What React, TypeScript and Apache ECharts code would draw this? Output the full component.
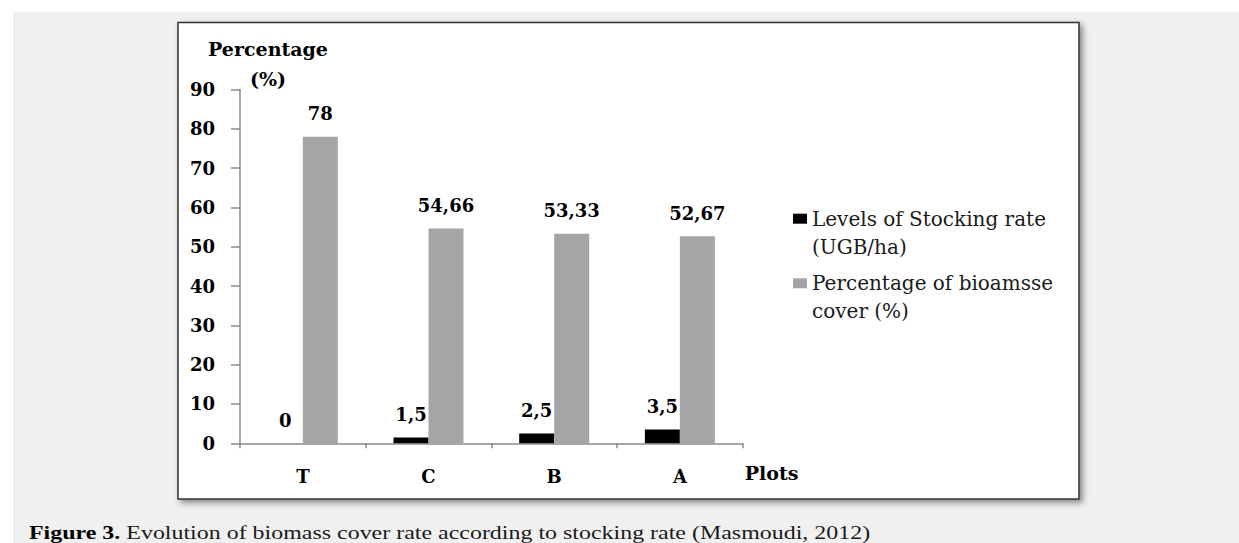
import React, { useEffect, useRef } from "react";
import * as echarts from "echarts";

const plots = ["T", "C", "B", "A"];
const stockingRate = [0, 1.5, 2.5, 3.5];
const biomassCover = [78, 54.66, 53.33, 52.67];
const seriesNames = ["Levels of Stocking rate (UGB/ha)", "Percentage of bioamsse cover (%)"];
const legendLines: Record<string, string> = {
  "Levels of Stocking rate (UGB/ha)": "\nLevels of Stocking rate\n(UGB/ha)",
  "Percentage of bioamsse cover (%)": "\nPercentage of bioamsse\ncover (%)",
};
const yAxisTitle = "Percentage\n(%)";
const xAxisTitle = "\nPlots";
const captionBold = "Figure 3.";
const captionText = " Evolution of biomass cover rate according to stocking rate (Masmoudi, 2012)";

const CHART_FONT = "'DejaVu Serif', serif";
const CAPTION_FONT = "'Liberation Serif', 'Times New Roman', serif";

const fmt = (p: any) => String(p.value).replace(".", ",");

export default function App() {
  const ref = useRef<HTMLDivElement>(null);
  useEffect(() => {
    if (!ref.current) return;
    const chart = echarts.init(ref.current, undefined, { renderer: "svg" });
    const boldText = { fontFamily: CHART_FONT, fontWeight: "bold" as const, fontSize: 18, color: "#000" };
    chart.setOption({
      animation: false,
      backgroundColor: "#ffffff",
      graphic: [
        {
          type: "rect",
          z: -10,
          silent: true,
          shape: { x: 13, y: 12, width: 1226, height: 531 },
          style: { fill: "#f0f0f0" },
        },
        {
          type: "rect",
          z: -9,
          silent: true,
          shape: { x: 178, y: 22.5, width: 901, height: 476.5 },
          style: {
            fill: "#ffffff",
            stroke: "#333333",
            lineWidth: 1.5,
            shadowBlur: 6,
            shadowOffsetX: 3,
            shadowOffsetY: 3,
            shadowColor: "rgba(0,0,0,0.45)",
          },
        },
        {
          type: "text",
          x: 29,
          y: 533,
          scaleX: 1.26,
          silent: true,
          style: {
            text: `{b|${captionBold}}{r|${captionText}}`,
            verticalAlign: "middle",
            align: "left",
            rich: {
              b: { fontFamily: CAPTION_FONT, fontWeight: "bold", fontSize: 19, fill: "#000" },
              r: { fontFamily: CAPTION_FONT, fontWeight: "normal", fontSize: 19, fill: "#1a1a1a" },
            },
          },
        },
      ],
      grid: { left: 240, top: 89.5, width: 502.7, height: 353.8 },
      legend: {
        orient: "vertical",
        left: 788,
        top: 171.7,
        padding: 5,
        itemWidth: 14,
        itemHeight: 10,
        itemGap: -19.4,
        icon: "rect",
        selectedMode: false,
        data: seriesNames,
        formatter: (n: string) => legendLines[n] ?? n,
        textStyle: {
          fontFamily: CHART_FONT,
          fontSize: 20,
          color: "#1a1a1a",
          lineHeight: 28,
        },
      },
      xAxis: {
        type: "category",
        data: plots,
        name: xAxisTitle,
        nameLocation: "end",
        nameGap: 2,
        nameMoveOverlap: false,
        nameTextStyle: { ...boldText, fontSize: 19, align: "left", verticalAlign: "middle", lineHeight: 60 },
        axisLine: { show: true, lineStyle: { color: "#8a8a8a", width: 1.5 } },
        axisTick: { show: true, length: 5, lineStyle: { color: "#8a8a8a", width: 1.5 } },
        axisLabel: { ...boldText, margin: 24 },
        splitLine: { show: false },
      },
      yAxis: {
        type: "value",
        min: 0,
        max: 90,
        interval: 10,
        name: yAxisTitle,
        nameLocation: "end",
        nameGap: -4,
        nameMoveOverlap: false,
        nameTextStyle: {
          ...boldText,
          fontSize: 19,
          align: "center",
          verticalAlign: "bottom",
          lineHeight: 30,
          padding: [0, 0, 0, 56],
        },
        axisLine: { show: true, lineStyle: { color: "#8a8a8a", width: 1.5 } },
        axisTick: { show: true, length: 9, lineStyle: { color: "#8a8a8a", width: 1.5 } },
        axisLabel: { ...boldText, margin: 25 },
        splitLine: { show: false },
      },
      series: [
        {
          name: seriesNames[0],
          type: "bar",
          data: stockingRate,
          barWidth: 35,
          barGap: "0%",
          itemStyle: { color: "#000000" },
          label: { show: true, position: "top", distance: 14, formatter: fmt, ...boldText },
        },
        {
          name: seriesNames[1],
          type: "bar",
          data: biomassCover,
          barWidth: 35,
          barGap: "0%",
          itemStyle: { color: "#a5a5a5" },
          label: { show: true, position: "top", distance: 14, formatter: fmt, ...boldText },
        },
      ],
    });
    return () => chart.dispose();
  }, []);
  return (
    <div
      ref={ref}
      style={{ position: "fixed", left: 0, top: 0, width: 1239, height: 543 }}
    />
  );
}
